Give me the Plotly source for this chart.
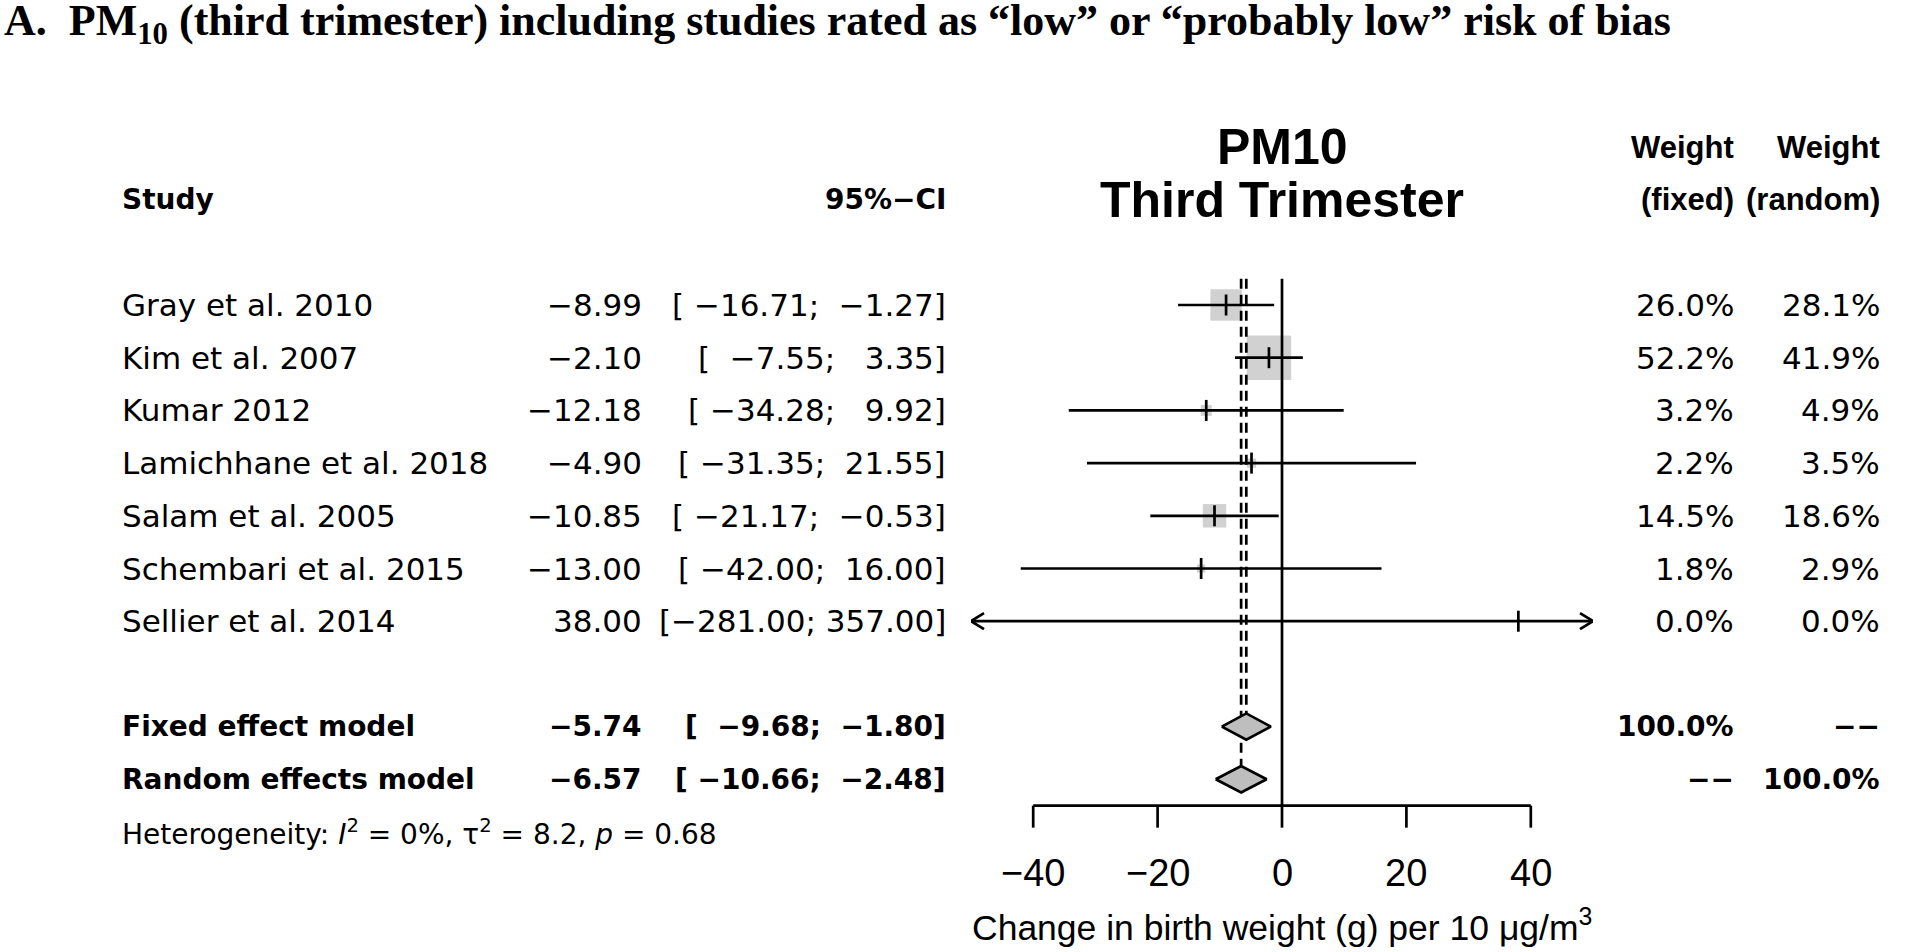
import math
import plotly.graph_objects as go

# ---------------- data ----------------
studies = ["Gray et al. 2010", "Kim et al. 2007", "Kumar 2012", "Lamichhane et al. 2018",
           "Salam et al. 2005", "Schembari et al. 2015", "Sellier et al. 2014"]
te = [-8.99, -2.10, -12.18, -4.90, -10.85, -13.00, 38.00]
lower = [-16.71, -7.55, -34.28, -31.35, -21.17, -42.00, -281.00]
upper = [-1.27, 3.35, 9.92, 21.55, -0.53, 16.00, 357.00]
w_fixed = [26.0, 52.2, 3.2, 2.2, 14.5, 1.8, 0.0]
w_random = [28.1, 41.9, 4.9, 3.5, 18.6, 2.9, 0.0]

model_labels = ["Fixed effect model", "Random effects model"]
model_te = [-5.74, -6.57]
model_lower = [-9.68, -10.66]
model_upper = [-1.80, -2.48]
model_w_fixed = ["100.0%", "\u2212\u2212"]
model_w_random = ["\u2212\u2212", "100.0%"]

x_ticks = [-40, -20, 0, 20, 40]
x_limits = [-50, 50]
het_I2 = "0%"
het_tau2 = "8.2"
het_p = "0.68"

title_main = ("A.\u00a0\u00a0PM<sub>10</sub> (third trimester) including studies rated as "
              "\u201clow\u201d or \u201cprobably low\u201d risk of bias")
smlab = ["PM10", "Third Trimester"]
xlab = "Change in birth weight (g) per 10 \u03bcg/m<sup>3</sup>"

# ---------------- layout constants ----------------
W, H = 1920, 952
ROW0, STEP = 305.0, 52.7
PX_L, PX_R = 971.0, 1593.0
PX_PER_UNIT = (PX_R - PX_L) / (x_limits[1] - x_limits[0])

COL_STUDY = 120
COL_TE = 644
COL_CI = 948
COL_WF = 1736
COL_WR = 1882

BLACK = "#000000"
GREY = "#bebebe"
LW = 2.7
BODY = "DejaVu Sans"
BODY_SIZE = 31
BOLD_SIZE = 28
HEAD = "Liberation Sans"


def px_row(py):
    return (py - ROW0) / STEP


def fmt(v, d=2):
    return f"{v:.{d}f}".replace("-", "\u2212")


def pad(s, n):
    return "\u00a0" * max(0, n - len(s)) + s


def ci_str(lo, hi):
    return "[" + pad(fmt(lo), 7) + ";\u00a0" + pad(fmt(hi), 6) + "]"


study_rows = list(range(len(studies)))
model_rows = [len(studies) + 1, len(studies) + 2]
het_row = model_rows[-1] + 1
axis_row = model_rows[-1] + 0.5
top_row = -0.5
dia_h = 0.25

fig = go.Figure()

# squares (area proportional to fixed weight)
sq_sizes = [6.16 * math.sqrt(w) for w in w_fixed]
fig.add_trace(go.Scatter(
    x=te, y=study_rows, mode="markers",
    marker=dict(symbol="square", size=sq_sizes, color=GREY, line=dict(width=0)),
    hoverinfo="skip", showlegend=False))

# vertical reference lines
fig.add_trace(go.Scatter(x=[0, 0], y=[top_row, axis_row], mode="lines",
                         line=dict(color=BLACK, width=LW), hoverinfo="skip", showlegend=False))
for mt, mr in zip(model_te, model_rows):
    fig.add_trace(go.Scatter(x=[mt, mt], y=[top_row, mr - dia_h], mode="lines",
                             line=dict(color=BLACK, width=LW, dash="10px,6px"),
                             hoverinfo="skip", showlegend=False))

# CI lines with arrows where clipped
cx, cy, ax, ay = [], [], [], []
adx = 13 / PX_PER_UNIT
ady = 8 / STEP
for lo, hi, r in zip(lower, upper, study_rows):
    l = max(lo, x_limits[0])
    h = min(hi, x_limits[1])
    cx += [l, h, None]
    cy += [r, r, None]
    if lo < x_limits[0]:
        ax += [l + adx, l, l + adx, None]
        ay += [r - ady, r, r + ady, None]
    if hi > x_limits[1]:
        ax += [h - adx, h, h - adx, None]
        ay += [r - ady, r, r + ady, None]
fig.add_trace(go.Scatter(x=cx, y=cy, mode="lines", line=dict(color=BLACK, width=LW),
                         hoverinfo="skip", showlegend=False))
fig.add_trace(go.Scatter(x=ax, y=ay, mode="lines", line=dict(color=BLACK, width=LW),
                         hoverinfo="skip", showlegend=False))

# estimate ticks
fig.add_trace(go.Scatter(
    x=te, y=study_rows, mode="markers",
    marker=dict(symbol="line-ns", size=15, color=BLACK, line=dict(color=BLACK, width=LW)),
    hoverinfo="skip", showlegend=False))

# diamonds
for mt, lo, hi, r in zip(model_te, model_lower, model_upper, model_rows):
    fig.add_trace(go.Scatter(x=[lo, mt, hi, mt, lo], y=[r, r - dia_h, r, r + dia_h, r],
                             mode="lines", fill="toself", fillcolor=GREY,
                             line=dict(color=BLACK, width=LW),
                             hoverinfo="skip", showlegend=False))

# x axis (drawn)
tick_len = 22 / STEP
fig.add_trace(go.Scatter(x=[x_ticks[0], x_ticks[-1]], y=[axis_row, axis_row], mode="lines",
                         line=dict(color=BLACK, width=LW), hoverinfo="skip", showlegend=False))
tx, ty = [], []
for t in x_ticks:
    tx += [t, t, None]
    ty += [axis_row, axis_row + tick_len, None]
fig.add_trace(go.Scatter(x=tx, y=ty, mode="lines", line=dict(color=BLACK, width=LW),
                         hoverinfo="skip", showlegend=False))

ann = []


def text(x_px, row, s, anchor="left", size=BODY_SIZE, family=BODY, xref="paper"):
    ann.append(dict(x=x_px / W if xref == "paper" else x_px, xref=xref, y=row, yref="y",
                    text=s, showarrow=False, xanchor=anchor, yanchor="middle",
                    font=dict(family=family, size=size, color=BLACK)))


for t in x_ticks:
    text(t, px_row(873), fmt(t, 0), anchor="center", size=38, family=HEAD, xref="x")
text(0, px_row(925), xlab, anchor="center", size=35.5, family=HEAD, xref="x")

# headers
H1, H2 = px_row(147), px_row(199.5)
text(COL_STUDY, H2, "<b>Study</b>", size=BOLD_SIZE)
text(COL_CI, H2, "<b>95%\u2212CI</b>", anchor="right", size=BOLD_SIZE)
text(COL_WF, H1, "<b>Weight</b>", anchor="right", size=31, family=HEAD)
text(COL_WF, H2, "<b>(fixed)</b>", anchor="right", size=31, family=HEAD)
text(COL_WR, H1, "<b>Weight</b>", anchor="right", size=31, family=HEAD)
text(COL_WR, H2, "<b>(random)</b>", anchor="right", size=31, family=HEAD)
text(0, px_row(147), "<b>" + smlab[0] + "</b>", anchor="center", size=50, family=HEAD, xref="x")
text(0, px_row(200), "<b>" + smlab[1] + "</b>", anchor="center", size=50, family=HEAD, xref="x")

# study rows
for i, r in enumerate(study_rows):
    text(COL_STUDY, r, studies[i])
    text(COL_TE, r, fmt(te[i]), anchor="right")
    text(COL_CI, r, ci_str(lower[i], upper[i]), anchor="right")
    text(COL_WF, r, f"{w_fixed[i]:.1f}%", anchor="right")
    text(COL_WR, r, f"{w_random[i]:.1f}%", anchor="right")

for i, r in enumerate(model_rows):
    text(COL_STUDY, r, "<b>" + model_labels[i] + "</b>", size=BOLD_SIZE)
    text(COL_TE, r, "<b>" + fmt(model_te[i]) + "</b>", anchor="right", size=BOLD_SIZE)
    text(COL_CI, r, "<b>" + ci_str(model_lower[i], model_upper[i]) + "</b>", anchor="right",
         size=BOLD_SIZE)
    text(COL_WF, r, "<b>" + model_w_fixed[i] + "</b>", anchor="right", size=BOLD_SIZE)
    text(COL_WR, r, "<b>" + model_w_random[i] + "</b>", anchor="right", size=BOLD_SIZE)

text(COL_STUDY, het_row,
     f"Heterogeneity: <i>I</i><sup>2</sup> = {het_I2}, \u03c4<sup>2</sup> = {het_tau2}, <i>p</i> = {het_p}",
     size=28)

# title
ann.append(dict(x=2 / W, xref="paper", y=1.0 + 6 / H, yref="paper", text="<b>" + title_main + "</b>",
                showarrow=False, xanchor="left", yanchor="top",
                font=dict(family="Liberation Serif", size=44, color=BLACK)))

fig.update_layout(
    width=W, height=H,
    margin=dict(l=0, r=0, t=0, b=0, pad=0),
    paper_bgcolor="white", plot_bgcolor="white",
    xaxis=dict(domain=[PX_L / W, PX_R / W], range=x_limits, visible=False, fixedrange=True),
    yaxis=dict(domain=[0, 1], range=[(H - ROW0) / STEP, -ROW0 / STEP], visible=False,
               fixedrange=True),
    annotations=ann,
    showlegend=False,
)

fig.write_html("out.html", config={"displayModeBar": False},
               post_script="document.body.style.margin='0';document.body.style.overflow='hidden';")
